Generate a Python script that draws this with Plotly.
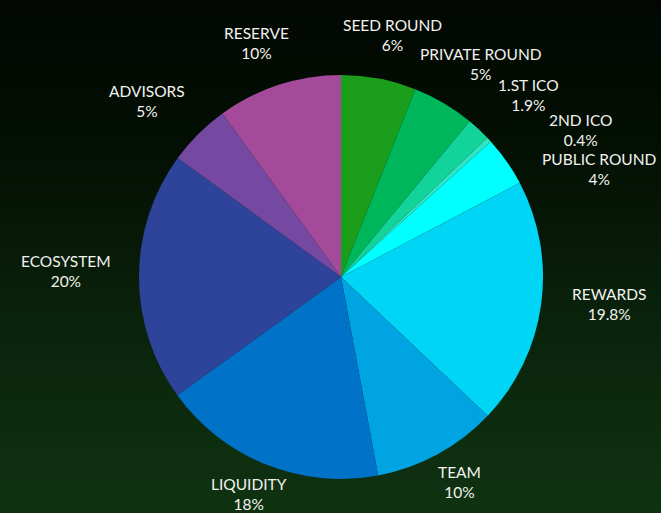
import math
import plotly.graph_objects as go

labels = ["SEED ROUND", "PRIVATE ROUND", "1.ST ICO", "2ND ICO", "PUBLIC ROUND",
          "REWARDS", "TEAM", "LIQUIDITY", "ECOSYSTEM", "ADVISORS", "RESERVE"]
values = [6, 5, 1.9, 0.4, 4, 19.8, 10, 18, 20, 5, 10]
pct_text = ["6%", "5%", "1.9%", "0.4%", "4%", "19.8%", "10%", "18%", "20%", "5%", "10%"]
colors = ["#1a9e1c", "#00b65a", "#12d39a", "#30e6c2", "#00ffff",
          "#00d5f6", "#00a4e2", "#0072c7", "#2e439a", "#7548a1", "#a34a9b"]

W, H = 661, 513
cx, cy, R = 341, 277, 202
A, B, cyl = 275, 240, 271  # label ellipse
FS = 15.5
LINE_H = 19.5


def ell_x(y, right):
    dy = y - cyl
    dx = A * math.sqrt(max(0.0, 1 - (dy / B) ** 2))
    return cx + dx if right else cx - dx


def boxes(x, y, lab, t):
    wn, wp = 9.6 * len(lab), 9.0 * len(t)
    return [(x - wn / 2, x + wn / 2, y - 10), (x - wp / 2, x + wp / 2, y + 10)]


def clash(b1, b2):
    for (l1, r1, y1) in b1:
        for (l2, r2, y2) in b2:
            if abs(y1 - y2) < LINE_H and l1 < r2 and l2 < r1:
                return True
    return False


fig = go.Figure()
# dark background gradient
fig.add_trace(go.Scatter(
    x=[0, 1, 1, 0, 0], y=[0, 0, 1, 1, 0], mode="none", fill="toself",
    fillgradient=dict(type="vertical",
                      colorscale=[[0, "#0f3311"], [0.35, "#0a240c"], [0.7, "#041004"], [1, "#020702"]]),
    hoverinfo="skip", showlegend=False,
))
fig.add_trace(go.Pie(
    labels=labels, values=values, sort=False, direction="clockwise", rotation=0,
    marker=dict(colors=colors, line=dict(width=0)),
    textinfo="none", hoverinfo="label+percent", showlegend=False,
    domain=dict(x=[(cx - R) / W, (cx + R) / W], y=[1 - (cy + R) / H, 1 - (cy - R) / H]),
))

# label positions derived from slice mid-angles, then nudged to avoid clashes
total = sum(values)
start = []
cum = 0
for v in values:
    mid = (cum + v / 2) / total * 2 * math.pi
    cum += v
    a_eff = A + 30 * min(0.0, math.cos(mid))
    start.append((cx + a_eff * math.sin(mid), cyl - B * math.cos(mid), math.sin(mid) >= 0))

pos = [None] * len(values)
for side in (True, False):
    idx = [i for i, p in enumerate(start) if p[2] == side]
    idx.sort(key=lambda i: start[i][1])
    placed = []
    for i in idx:
        x0, y0, _ = start[i]
        x, y = x0, y0
        for s in range(0, 120):
            y = y0 + s
            x = ell_x(y, side) + (0.8 * s if side else -0.8 * s) if s else x0
            half = 9.6 * len(labels[i]) / 2
            x = min(max(x, half + 4), W - half - 4)
            bx = boxes(x, y, labels[i], pct_text[i])
            if not any(clash(bx, boxes(*pos[j][:2], labels[j], pct_text[j])) for j in placed):
                break
        pos[i] = (x, y)
        placed.append(i)

annotations = []
for (x, y), lab, t in zip(pos, labels, pct_text):
    annotations.append(dict(
        x=x / W, y=1 - y / H, xref="paper", yref="paper", showarrow=False,
        xanchor="center", yanchor="middle",
        text=f"{lab}<br>{t}", align="center",
        font=dict(family="Lato, Noto Sans, sans-serif", size=FS, color="#f2f2ee"),
    ))

fig.update_layout(
    width=W, height=H, margin=dict(l=0, r=0, t=0, b=0),
    paper_bgcolor="#061306", plot_bgcolor="rgba(0,0,0,0)",
    xaxis=dict(visible=False, range=[0, 1], domain=[0, 1], fixedrange=True),
    yaxis=dict(visible=False, range=[0, 1], domain=[0, 1], fixedrange=True),
    annotations=annotations,
)
fig.write_html("out.html", config={"displayModeBar": False},
               post_script="document.body.style.margin='0';")
